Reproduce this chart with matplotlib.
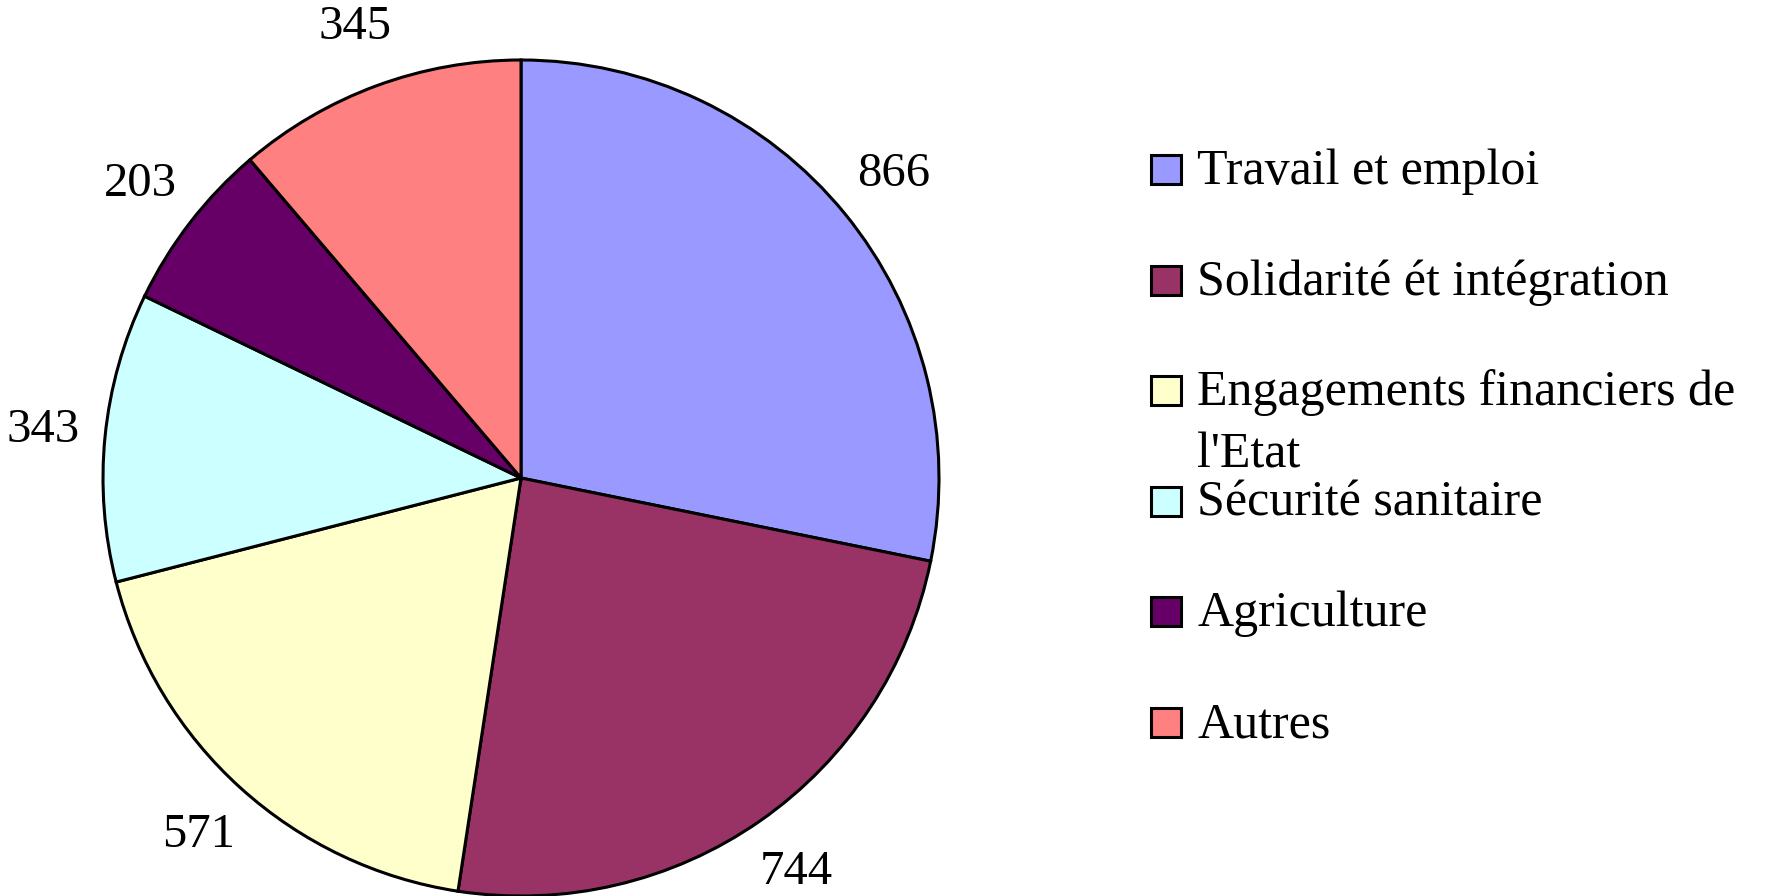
import matplotlib
matplotlib.use("Agg")
import matplotlib.pyplot as plt
from matplotlib.patches import Rectangle

# data
categories = ["Travail et emploi", "Solidarité ét intégration",
              "Engagements financiers de\nl'Etat", "Sécurité sanitaire",
              "Agriculture", "Autres"]
values = [866, 744, 571, 343, 203, 345]
colors = ["#9999FF", "#993366", "#FFFFCC", "#CCFFFF", "#660066", "#FF8080"]

plt.rcParams['font.family'] = ['Liberation Serif', 'DejaVu Serif']

W, H = 1780, 896
fig = plt.figure(figsize=(W / 100, H / 100), dpi=100)
ax = fig.add_axes([0, 0, 1, 1])

# pie, working in pixel-like data units (y up)
wedges, texts = ax.pie(values, labels=[str(v) for v in values], colors=colors,
                       startangle=90, counterclock=False,
                       center=(521, H - 478), radius=418, labeldistance=1.15,
                       wedgeprops=dict(edgecolor="black", linewidth=2.2),
                       textprops=dict(fontsize=35))
for t in texts:
    t.set_ha("center")
    t.set_va("center")

ax.set_xlim(0, W)
ax.set_ylim(0, H)
ax.set_aspect("equal")
ax.axis("off")

# legend drawn by hand so the wrapped entry keeps the original row rhythm
base0 = 184
step = 110.6
for i, (lab, col) in enumerate(zip(categories, colors)):
    yb = H - (base0 + i * step)
    ax.add_patch(Rectangle((1151, yb), 30, 29, facecolor=col,
                           edgecolor="black", linewidth=2.2, clip_on=False))
    for k, line in enumerate(lab.split("\n")):
        ax.text(1197, yb - k * 62, line, fontsize=36, ha="left", va="baseline")

fig.savefig("out.png", dpi=100)
